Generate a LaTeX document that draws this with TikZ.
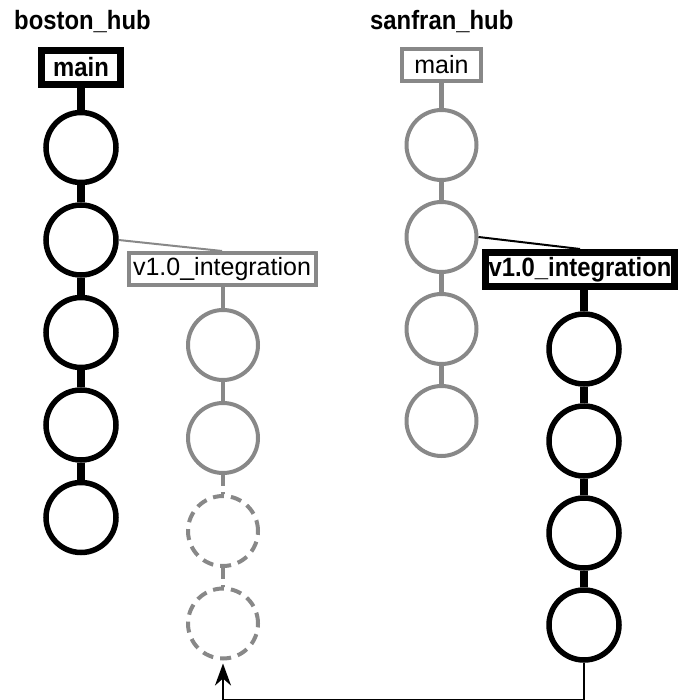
\documentclass[tikz,border=0pt]{standalone}
\usepackage{fontspec}
\setmainfont{Liberation Sans}
% slightly narrowed bold face for titles and active branch labels
\newfontfamily\hubnarrow[FakeStretch=0.9]{Liberation Sans}
\usetikzlibrary{arrows.meta}
\definecolor{inactive}{HTML}{888888}
\begin{document}
\begin{tikzpicture}[x=1pt,y=-1pt,
  txt/.style={font=\fontsize{25}{29}\selectfont},
  txtb/.style={font=\hubnarrow\bfseries\fontsize{26.5}{30}\selectfont},
  heading/.style={txtb,inner sep=0pt,anchor=base west},
  commit/.style={circle,minimum size=70pt,inner sep=0pt},
  hotcommit/.style={commit,draw=black,line width=5.5pt},
  coldcommit/.style={commit,draw=inactive,line width=4pt},
  ghostcommit/.style={commit,draw=inactive,line width=4pt,dash pattern=on 11pt off 7pt},
  refbox/.style={rectangle,inner sep=0pt,text=black},
  hotbox/.style={refbox,txtb,draw=black,line width=7pt},
  coldbox/.style={refbox,txt,draw=inactive,line width=4pt},
  hotlink/.style={draw=black,line width=8pt},
  coldlink/.style={draw=inactive,line width=4.5pt},
  ghostlink/.style={draw=inactive,line width=4.5pt,dash pattern=on 11pt off 6pt},
  forkline/.style={line width=2pt},
  pullarrow/.style={line width=2.5pt,shorten >=3pt,
    -{Stealth[length=22pt,width=16pt,inset=7pt]}},
]
\useasboundingbox (0,0) rectangle (678,700);

% repository titles
\node[heading] (bt) at (14,30) {boston\_hub};
\node[heading] (st) at (370,30) {sanfran\_hub};

% boston_hub: main
\node[hotbox,minimum width=79pt,minimum height=34pt] (bmain) at (81,67.5) {main};
\node[hotcommit] (b1) at (81,147.5) {};
\node[hotcommit] (b2) at (81,240) {};
\node[hotcommit] (b3) at (81,332.5) {};
\node[hotcommit] (b4) at (81,425) {};
\node[hotcommit] (b5) at (81,517.5) {};
\draw[hotlink] (bmain.south) -- (b1.north);
\draw[hotlink] (b1.south) -- (b2.north);
\draw[hotlink] (b2.south) -- (b3.north);
\draw[hotlink] (b3.south) -- (b4.north);
\draw[hotlink] (b4.south) -- (b5.north);

% boston_hub: v1.0_integration
\node[coldbox,minimum width=187pt,minimum height=32pt] (bint) at (222,269) {v1.0\_integration};
\node[coldcommit] (bi1) at (223,345) {};
\node[coldcommit] (bi2) at (223,438) {};
\node[ghostcommit] (bi3) at (223,531) {};
\node[ghostcommit] (bi4) at (223,623.5) {};
\draw[coldlink] (bi1.north) -- (bi1.north |- bint.south);
\draw[coldlink] (bi1.south) -- (bi2.north);
\draw[ghostlink] (bi2.south) -- (bi3.north);
\draw[ghostlink] (bi3.south) -- (bi4.north);
\draw[forkline,draw=inactive] (b2.east) -- (bint.north);

% sanfran_hub: main
\node[coldbox,minimum width=79pt,minimum height=32pt] (smain) at (441.5,65) {main};
\node[coldcommit] (s1) at (441.5,145) {};
\node[coldcommit] (s2) at (441.5,237) {};
\node[coldcommit] (s3) at (441.5,329) {};
\node[coldcommit] (s4) at (441.5,421) {};
\draw[coldlink] (smain.south) -- (s1.north);
\draw[coldlink] (s1.south) -- (s2.north);
\draw[coldlink] (s2.south) -- (s3.north);
\draw[coldlink] (s3.south) -- (s4.north);

% sanfran_hub: v1.0_integration
\node[hotbox,minimum width=189pt,minimum height=34pt] (sint) at (580,269.5) {v1.0\_integration};
\node[hotcommit] (si1) at (584,349) {};
\node[hotcommit] (si2) at (584,441) {};
\node[hotcommit] (si3) at (584,533) {};
\node[hotcommit] (si4) at (584,625) {};
\draw[hotlink] (si1.north) -- (si1.north |- sint.south);
\draw[hotlink] (si1.south) -- (si2.north);
\draw[hotlink] (si2.south) -- (si3.north);
\draw[hotlink] (si3.south) -- (si4.north);
\draw[forkline,draw=black] (s2.east) -- (sint.north);

% pulling the sanfran commits into boston
\draw[pullarrow] (si4.south) -- ++(0,37) -| (bi4.south);
\end{tikzpicture}
\end{document}
